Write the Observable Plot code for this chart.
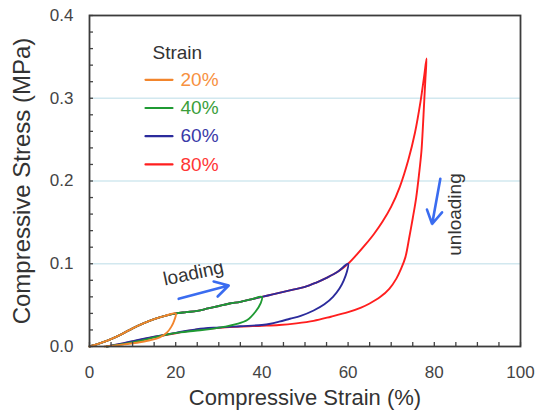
<!DOCTYPE html>
<html>
<head>
<meta charset="utf-8">
<script src="https://cdn.jsdelivr.net/npm/d3@7"></script>
<script src="https://cdn.jsdelivr.net/npm/@observablehq/plot@0.6"></script>
<style>
  html, body { margin: 0; padding: 0; background: #fff; }
  svg { font-family: "Liberation Sans", Arial, sans-serif; }
</style>
</head>
<body>
<div id="chart"></div>
<script>
// ---------- data ----------
const seriesNames = ["20%", "40%", "60%", "80%"];
const legendTitle = "Strain";

// each curve: loading branch followed by unloading branch, [strain %, stress MPa]
const curve20 = [
  [0, 0], [2.5, 0.004], [5, 0.009], [7.5, 0.015], [10, 0.022], [12.5, 0.028], [15, 0.033], [17.5, 0.037], [20, 0.040],
  [19.7, 0.032], [19, 0.024], [18, 0.017], [16.3, 0.011], [14, 0.0075], [11, 0.0045], [8, 0.0025], [5.5, 0.001], [3.5, 0]
];
const curve40 = [
  [0, 0], [2.5, 0.004], [5, 0.009], [7.5, 0.015], [10, 0.022], [12.5, 0.028], [15, 0.033], [17.5, 0.037], [20, 0.040],
  [22.5, 0.0415], [25, 0.043], [27.5, 0.046], [30, 0.049], [32.5, 0.052], [35, 0.054], [37.5, 0.057], [40, 0.060],
  [39.7, 0.052], [38.5, 0.042], [36.6, 0.032], [34, 0.027], [31.5, 0.024], [28, 0.021], [24.5, 0.019], [21, 0.017],
  [18, 0.0145], [15, 0.011], [12, 0.007], [9, 0.004], [6, 0.0015], [4, 0]
];
const curve60 = [
  [0, 0], [2.5, 0.004], [5, 0.009], [7.5, 0.015], [10, 0.022], [12.5, 0.028], [15, 0.033], [17.5, 0.037], [20, 0.040],
  [22.5, 0.0415], [25, 0.043], [27.5, 0.046], [30, 0.049], [32.5, 0.052], [35, 0.054], [37.5, 0.057], [40, 0.060],
  [42.5, 0.063], [45, 0.066], [47.5, 0.069], [50, 0.072], [52.5, 0.077], [55, 0.083], [57.5, 0.090], [60, 0.100],
  [59.7, 0.090], [59, 0.080], [58, 0.070], [56.5, 0.060], [54.5, 0.051], [52, 0.0435], [49, 0.037], [46.5, 0.0335],
  [44, 0.030], [42, 0.0275], [40, 0.026], [35, 0.0245], [30, 0.023], [25, 0.021], [20, 0.0165], [15, 0.012],
  [10, 0.0065], [7, 0.003], [4, 0]
];
const curve80 = [
  [0, 0], [2.5, 0.004], [5, 0.009], [7.5, 0.015], [10, 0.022], [12.5, 0.028], [15, 0.033], [17.5, 0.037], [20, 0.040],
  [22.5, 0.0415], [25, 0.043], [27.5, 0.046], [30, 0.049], [32.5, 0.052], [35, 0.054], [37.5, 0.057], [40, 0.060],
  [42.5, 0.063], [45, 0.066], [47.5, 0.069], [50, 0.072], [52.5, 0.077], [55, 0.083], [57.5, 0.090], [60, 0.100],
  [62, 0.111], [64, 0.123], [66, 0.136], [68, 0.151], [70, 0.169], [72, 0.193], [74, 0.226], [75.5, 0.258],
  [76.8, 0.296], [77.6, 0.325], [78.2, 0.348],
  [77.9, 0.320], [77.6, 0.290], [77.3, 0.260], [77, 0.235], [76.5, 0.210], [75.8, 0.180], [75, 0.155], [74.2, 0.132],
  [73.3, 0.108], [72.3, 0.094], [71.2, 0.082], [69.6, 0.070], [67.5, 0.060], [65, 0.052], [63, 0.047], [60, 0.0415],
  [56, 0.036], [52, 0.031], [48, 0.028], [44, 0.026], [40, 0.025], [35, 0.024], [30, 0.0225], [25, 0.0205],
  [20, 0.016], [15, 0.0115], [10, 0.006], [7, 0.0028], [4, 0]
];

const xTickLabels = [0, 20, 40, 60, 80, 100];
const yTickLabels = [0, 0.1, 0.2, 0.3, 0.4];
const xMinorTicks = [0, 5, 10, 15, 20, 25, 30, 35, 40, 45, 50, 55, 60, 65, 70, 75, 80, 85, 90, 95, 100];
const yMinorTicks = [0, 0.02, 0.04, 0.06, 0.08, 0.1, 0.12, 0.14, 0.16, 0.18, 0.2, 0.22, 0.24, 0.26, 0.28, 0.3, 0.32, 0.34, 0.36, 0.38, 0.4];
const gridLines = [0.1, 0.2, 0.3];

const xTitle = "Compressive Strain (%)";
const yTitle = "Compressive Stress (MPa)";

// annotations (data units)
const annotationLabels = [
  {text: "loading", x: 24.1, y: 0.0885, rotate: -12},
  {text: "unloading", x: 84.7, y: 0.1595, rotate: -90}
];
const annotationArrows = [
  {x1: 20.7, y1: 0.0576, x2: 32.3, y2: 0.0737},
  {x1: 81.4, y1: 0.2027, x2: 79.5, y2: 0.148}
];

// ---------- styles ----------
const lineColors = {"20%": "#f2852c", "40%": "#1f9a33", "60%": "#2b2b9c", "80%": "#ff1e1e"};
const textColors = {"20%": "#f7913f", "40%": "#3a9e3a", "60%": "#3a3aa8", "80%": "#ff3535"};
const curves = {"20%": curve20, "40%": curve40, "60%": curve60, "80%": curve80};
const drawOrder = ["80%", "60%", "40%", "20%"];
const axisGray = "#444";
const arrowBlue = "#3a6cf0";

const mLeft = 89, mTop = 15;

const marks = [];
marks.push(Plot.ruleY(gridLines, {stroke: "#d2e8ef", strokeWidth: 1.3}));

drawOrder.forEach(k => {
  marks.push(Plot.line(curves[k], {
    x: d => d[0], y: d => d[1],
    stroke: lineColors[k], strokeWidth: 1.9, curve: "catmull-rom"
  }));
});

// axes: inward minor ticks
marks.push(Plot.axisX(xMinorTicks, {tickSize: 4, dy: -4, tickFormat: () => "", label: null, stroke: axisGray, strokeWidth: 1.3}));
marks.push(Plot.axisY(yMinorTicks, {tickSize: 4, dx: 4, tickFormat: () => "", label: null, stroke: axisGray, strokeWidth: 1.3}));
// axis labels
marks.push(Plot.axisX(xTickLabels, {tickSize: 0, tickPadding: 19, fontSize: 17, fill: axisGray, label: null}));
marks.push(Plot.axisY(yTickLabels, {tickSize: 0, tickPadding: 16, fontSize: 17, fill: axisGray, label: null, tickFormat: d3.format(".1f")}));

marks.push(Plot.frame({stroke: "#3c3c3c", strokeWidth: 1.8}));

// axis titles
marks.push(Plot.text([xTitle], {text: d => d, frameAnchor: "bottom", dy: 51, fontSize: 22, fill: "#333", textAnchor: "middle", lineAnchor: "middle"}));
marks.push(Plot.text([yTitle], {text: d => d, frameAnchor: "left", dx: -(mLeft - 21.5), rotate: -90, fontSize: 24, fill: "#333", textAnchor: "middle", lineAnchor: "middle"}));

// legend
marks.push(Plot.text([legendTitle], {text: d => d, frameAnchor: "top-left", dx: 152 - mLeft, dy: 58 - mTop, fontSize: 19, fill: "#333", textAnchor: "start", lineAnchor: "bottom"}));
const lineShape = {draw(context, l) { context.moveTo(0, 0); context.lineTo(0, -l); }};
seriesNames.forEach((name, i) => {
  marks.push(Plot.vector([name], {
    frameAnchor: "top-left", dx: 145 - mLeft, dy: 79.3 + 28.2 * i - mTop,
    length: 27, rotate: 90, anchor: "start", shape: lineShape,
    stroke: lineColors[name], strokeWidth: 2.2
  }));
  marks.push(Plot.text([name], {
    text: d => d, frameAnchor: "top-left", dx: 180 - mLeft, dy: 85.5 + 28.2 * i - mTop,
    fontSize: 19, fill: textColors[name], textAnchor: "start", lineAnchor: "bottom"
  }));
});

// annotations
marks.push(Plot.arrow(annotationArrows, {x1: "x1", y1: "y1", x2: "x2", y2: "y2", stroke: arrowBlue, strokeWidth: 2.6, headLength: 9}));
annotationLabels.forEach(a => {
  marks.push(Plot.text([a], {x: "x", y: "y", text: "text", rotate: a.rotate, fontSize: 19, fill: "#333", textAnchor: "middle", lineAnchor: "middle"}));
});

const chart = Plot.plot({
  width: 536,
  height: 410,
  marginLeft: mLeft,
  marginRight: 16,
  marginTop: mTop,
  marginBottom: 64,
  x: {domain: [0, 100]},
  y: {domain: [0, 0.4]},
  style: {fontFamily: '"Liberation Sans", Arial, sans-serif', background: "#fff", color: "#333"},
  marks
});
document.getElementById("chart").appendChild(chart);
</script>
</body>
</html>
